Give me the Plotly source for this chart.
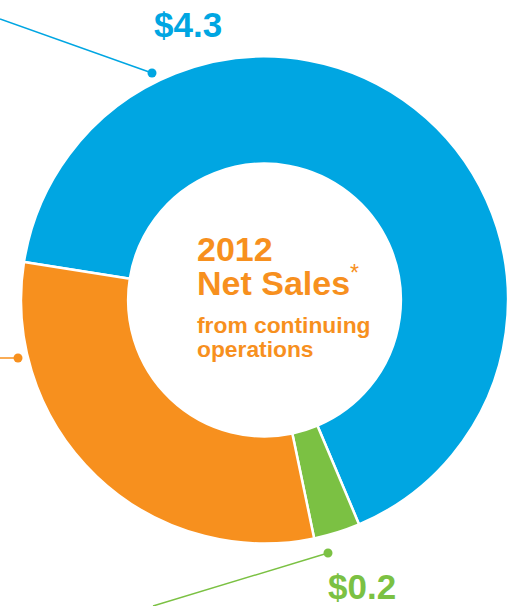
import plotly.graph_objects as go

# Net sales by segment (billions of dollars), in clockwise drawing order
segments = ["Segment A", "Segment C", "Segment B"]
net_sales = [4.3, 0.2, 2.0]
colors = ["#00A6E2", "#7BC143", "#F7901E"]

# Which segments carry a printed value label
labeled = [True, True, False]

W, H = 508, 606
FONT = "Liberation Sans, Arial, Helvetica, sans-serif"


def px(x):
    return x / W


def py(y):
    return 1 - y / H


fig = go.Figure(
    go.Pie(
        labels=segments,
        values=net_sales,
        sort=False,
        direction="clockwise",
        rotation=279,
        hole=0.56,
        marker=dict(colors=colors, line=dict(color="white", width=2.5)),
        textinfo="none",
        hoverinfo="label+value",
        showlegend=False,
        domain=dict(x=[21 / W, 1.0], y=[py(548), py(52)]),
    )
)

# Leader lines ending in dots
leaders = [
    (colors[0], (0, 19), (152, 73)),
    (colors[2], (0, 358), (18, 358)),
    (colors[1], (153, 606), (328, 553)),
]
shapes = []
for col, (xa, ya), (xb, yb) in leaders:
    shapes.append(dict(type="line", xref="paper", yref="paper",
                       x0=px(xa), y0=py(ya), x1=px(xb), y1=py(yb),
                       line=dict(color=col, width=1.5)))
    r = 4.5
    shapes.append(dict(type="circle", xref="paper", yref="paper",
                       x0=px(xb - r), x1=px(xb + r), y0=py(yb + r), y1=py(yb - r),
                       fillcolor=col, line=dict(width=0)))

annotations = []
label_pos = {0: (188, 24), 1: (362, 586)}
for i, v in enumerate(net_sales):
    if labeled[i]:
        x, y = label_pos[i]
        annotations.append(dict(
            text=f"<b>${v:.1f}</b>", x=px(x), y=py(y), xref="paper", yref="paper",
            xanchor="center", yanchor="middle", showarrow=False,
            font=dict(family=FONT, size=35, color=colors[i])))

# Centre title
orange = colors[2]
center_lines = [
    ("<b>2012</b>", 34, 249),
    ("<b>Net Sales</b><sup><span style='font-size:23px'>*</span></sup>", 34, 281),
    ("<b>from continuing</b>", 22.8, 325),
    ("<b>operations</b>", 22.8, 349),
]
for txt, size, y in center_lines:
    annotations.append(dict(
        text=txt, x=px(195), y=py(y), xref="paper", yref="paper",
        xanchor="left", yanchor="middle", showarrow=False,
        font=dict(family=FONT, size=size, color=orange)))

fig.update_layout(
    width=W, height=H,
    margin=dict(l=0, r=0, t=0, b=0),
    paper_bgcolor="white", plot_bgcolor="white",
    shapes=shapes, annotations=annotations,
)

fig.write_html("out.html")
